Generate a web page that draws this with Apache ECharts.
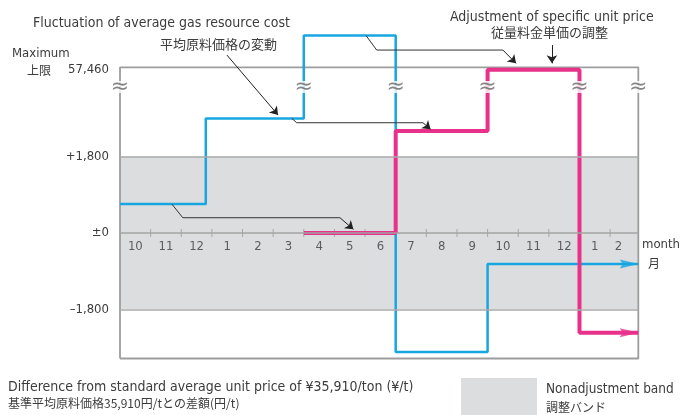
<!DOCTYPE html>
<html>
<head>
<meta charset="utf-8">
<script src="https://cdn.jsdelivr.net/npm/echarts@6/dist/echarts.min.js"></script>
<style>html,body{margin:0;padding:0;background:#fff}#c{width:680px;height:415px}</style>
</head>
<body>
<div id="c"></div>
<script>
// ---- data ----
const MONTHS = ['10','11','12','1','2','3','4','5','6','7','8','9','10','11','12','1','2'];
const MONTH_POS = [0.5,1.5,2.5,3.5,4.5,5.5,6.5,7.5,8.5,9.5,10.5,11.5,12.5,13.5,14.5,15.5,16.27];
const TICK_POS = [1,2,3,4,5,6,7,8,9,10,11,12,13,14,15,16];
const Y_TICKS = [-1800, 0, 1800, 3910];
const Y_LABELS = ['\u20131,800', '\u00b10', '+1,800', '57,460'];
const BAND = [-1800, 1800];
// average gas resource cost (blue): change points and levels
const BLUE_X = [0, 2.8, 6, 9, 12, 16.92];
const BLUE_V = [685, 2705, 4660, -2805, -730];
// specific unit price adjustment (pink)
const PINK_X = [6, 9, 12, 15, 16.92];
const PINK_V = [0, 2405, 3855, -2350];
// axis break positions
const BREAK_X = [0, 6, 9, 12, 15, 16.92];
const BREAK_V = 3445;
// connector annotations (polyline, last segment carries the arrow head)
const CONN_1 = [[1.69, 685], [2.05, 361], [7.18, 361], [7.62, 87]];
const CONN_2 = [[5.61, 2705], [5.77, 2602], [9.89, 2602], [10.14, 2446]];
const CONN_3 = [[8.03, 4660], [8.38, 4317], [12.5, 4317], [12.93, 4003]];
const NOTE_ARROW_1 = [[3.49, 4199], [5.16, 2784]];
const NOTE_ARROW_2 = [[14.1, 4435], [14.1, 4003]];

const X_MIN = 0, X_MAX = 16.92, Y_MIN = -2960, Y_MAX = 4790, MAX_LINE = 3910;

function steps(xs, vs) {
  const pts = [];
  for (let i = 0; i < vs.length; i++) { pts.push([xs[i], vs[i]]); pts.push([xs[i + 1], vs[i]]); }
  return pts;
}
const CONNS = [CONN_1, CONN_2, CONN_3, NOTE_ARROW_1, NOTE_ARROW_2];
const bodies = CONNS.filter(c => c.length > 2).map(c => ({coords: c.slice(0, c.length - 1)}));
const tips = CONNS.map(c => ({coords: c.slice(c.length - 2)}));

const BLUE = '#17a6df', PINK = '#e8318b';
const EN = "'DejaVu Sans Condensed','Liberation Sans',sans-serif";
const JP = "'Noto Sans CJK JP',sans-serif";
const TXT = '#3c3c3c';
const arrowRight = 'path://M0,0 L20,5 L0,10 L3,5 Z';

const chart = echarts.init(document.getElementById('c'), null, {renderer: 'canvas'});
chart.setOption({
  animation: false,
  backgroundColor: '#fff',
  grid: {left: 120, right: 41.7, top: 30, bottom: 56.5},
  xAxis: {
    type: 'value', min: X_MIN, max: X_MAX,
    axisLine: {show: false}, axisTick: {show: false}, axisLabel: {show: false}, splitLine: {show: false}
  },
  yAxis: {
    type: 'value', min: Y_MIN, max: Y_MAX,
    axisLine: {show: false}, axisTick: {show: false}, splitLine: {show: false},
    axisLabel: {customValues: Y_TICKS, margin: 11, fontSize: 13, color: TXT, fontFamily: EN,
      rich: {t: {fontSize: 13, color: TXT, fontFamily: EN, padding: [5, 0, 0, 0]}},
      formatter: v => {
        const i = Y_TICKS.indexOf(v);
        if (i < 0) return '';
        return v === MAX_LINE ? '{t|' + Y_LABELS[i] + '}' : Y_LABELS[i];
      }}
  },
  legend: {
    left: 461, top: 378, padding: 0, itemWidth: 76, itemHeight: 40, itemGap: 0, selectedMode: false,
    data: [{name: 'Nonadjustment band', icon: 'rect'}],
    formatter: () => '{a|Nonadjustment band}\n{b|調整バンド}',
    textStyle: {padding: [0, 0, 0, 4], rich: {
      a: {fontSize: 13.5, fontFamily: EN, color: TXT, lineHeight: 19},
      b: {fontSize: 12, fontFamily: JP, color: TXT, lineHeight: 17}
    }}
  },
  series: [
    {
      name: 'Nonadjustment band', type: 'line', data: [], z: 1,
      itemStyle: {color: '#dcdddf'}, lineStyle: {color: '#dcdddf'},
      markArea: {silent: true, itemStyle: {color: '#dcdddf'}, data: [[{yAxis: BAND[0]}, {yAxis: BAND[1]}]]},
      markLine: {silent: true, symbol: 'none', label: {show: false},
        lineStyle: {color: '#aaaaaa', width: 1.5, type: 'solid'},
        data: [{yAxis: BAND[0]}, {yAxis: BAND[1]}, {yAxis: 0, lineStyle: {color: '#a3a3a3', width: 1.5}}]}
    },
    {
      name: 'frame', type: 'line', z: 2, clip: false, symbol: 'none',
      lineStyle: {color: '#9d9d9d', width: 1.8},
      data: [[X_MIN, Y_MIN], [X_MIN, MAX_LINE], [X_MAX, MAX_LINE], [X_MAX, Y_MIN], [X_MIN, Y_MIN]]
    },
    {
      name: 'month ticks', type: 'scatter', z: 2, symbol: 'rect', symbolSize: [1, 8],
      itemStyle: {color: '#9a9a9a'}, data: TICK_POS.map(x => [x, 0])
    },
    {
      name: 'month labels', type: 'scatter', z: 2, symbolSize: 0,
      label: {show: true, position: 'inside', offset: [0, 13.5], fontSize: 13, color: TXT, fontFamily: EN,
        formatter: p => MONTHS[p.dataIndex]},
      data: MONTH_POS.map(x => [x, 0])
    },
    {
      name: 'Fluctuation of average gas resource cost', type: 'line', z: 3, clip: false, symbol: 'none',
      lineStyle: {color: BLUE, width: 2.5}, data: steps(BLUE_X, BLUE_V)
    },
    {
      name: 'Adjustment of specific unit price', type: 'line', z: 4, clip: false, symbol: 'none',
      lineStyle: {color: PINK, width: 4}, data: steps(PINK_X, PINK_V)
    },
    {
      name: 'heads', type: 'scatter', z: 5, clip: false, symbol: arrowRight,
      symbolSize: [19, 9], symbolOffset: [-9, 0],
      data: [
        {value: [BLUE_X[BLUE_X.length - 1], BLUE_V[BLUE_V.length - 1]], itemStyle: {color: BLUE}},
        {value: [PINK_X[PINK_X.length - 1], PINK_V[PINK_V.length - 1]], itemStyle: {color: PINK}}
      ]
    },
    {
      name: 'connector bodies', type: 'lines', coordinateSystem: 'cartesian2d', polyline: true, z: 6,
      lineStyle: {color: '#333', width: 1, opacity: 1}, data: bodies
    },
    {
      name: 'connector tips', type: 'lines', coordinateSystem: 'cartesian2d', z: 6,
      symbol: ['none', 'arrow'], symbolSize: 8,
      lineStyle: {color: '#222', width: 1, opacity: 1}, data: tips
    },
    {
      name: 'breaks', type: 'scatter', z: 7, clip: false, symbol: 'rect', symbolSize: [1, 1],
      itemStyle: {color: 'rgba(0,0,0,0)'},
      label: {show: true, position: 'inside', formatter: '\u2248', fontSize: 22, color: '#666',
        backgroundColor: '#fff', padding: [0, 0], lineHeight: 12, fontFamily: "'DejaVu Sans',sans-serif"},
      data: BREAK_X.map(x => [x, BREAK_V])
    }
  ],
  graphic: [
    {type: 'text', left: 33, top: 16, style: {text: 'Fluctuation of average gas resource cost', fontSize: 14, fontFamily: EN, fill: TXT}},
    {type: 'text', left: 160, top: 38, style: {text: '平均原料価格の変動', fontSize: 13, fontFamily: JP, fill: TXT}},
    {type: 'text', left: 450, top: 10, style: {text: 'Adjustment of specific unit price', fontSize: 14, fontFamily: EN, fill: TXT}},
    {type: 'text', left: 491, top: 26, style: {text: '従量料金単価の調整', fontSize: 13, fontFamily: JP, fill: TXT}},
    {type: 'text', left: 12, top: 47, style: {text: 'Maximum', fontSize: 13, fontFamily: EN, fill: TXT}},
    {type: 'text', left: 27, top: 64, style: {text: '上限', fontSize: 12, fontFamily: JP, fill: TXT}},
    {type: 'text', left: 642, top: 238, style: {text: 'month', fontSize: 13, fontFamily: EN, fill: TXT}},
    {type: 'text', left: 648, top: 257, style: {text: '月', fontSize: 12, fontFamily: JP, fill: TXT}},
    {type: 'text', left: 8, top: 380, style: {text: 'Difference from standard average unit price of \u00a535,910/ton (\u00a5/t)', fontSize: 14, fontFamily: EN, fill: TXT}},
    {type: 'text', left: 8, top: 397, style: {text: '基準平均原料価格35,910円/tとの差額(円/t)', fontSize: 12, fontFamily: JP, fill: TXT}}
  ]
});
</script>
</body>
</html>
